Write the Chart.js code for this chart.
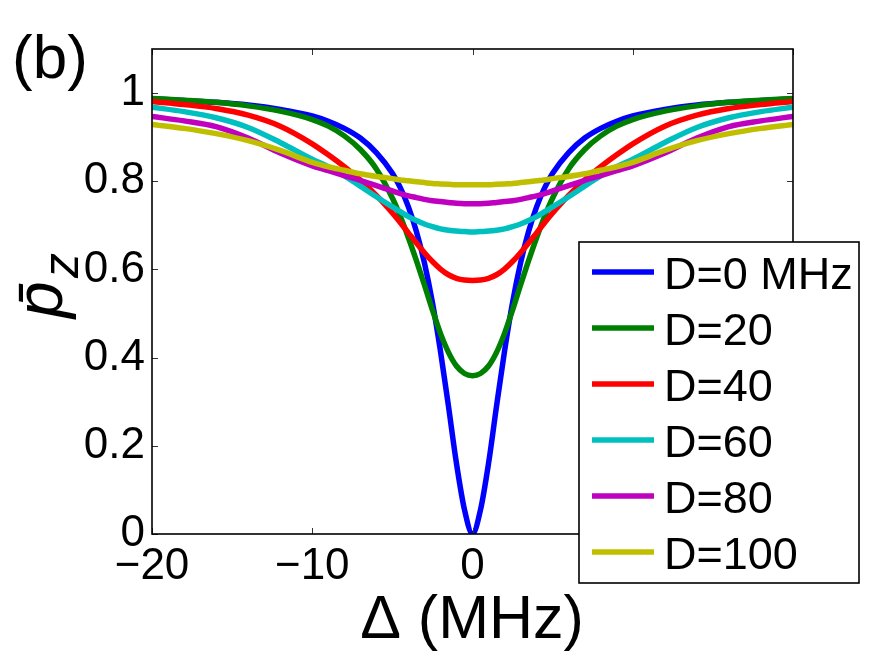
<!DOCTYPE html>
<html><head><meta charset="utf-8">
<script src="https://cdn.jsdelivr.net/npm/chart.js@4.4.0/dist/chart.umd.min.js"></script>
<style>html,body{margin:0;padding:0;background:#fff;}canvas{display:block;}</style>
</head><body>
<canvas id="c" width="875" height="657"></canvas>
<script>
// Detuning Δ (MHz)
const detuning = [-20,-18,-16,-14,-12,-10,-9,-8,-7,-6,-5,-4.5,-4,-3.5,-3,-2.5,-2,-1.5,-1,-0.5,0,
                  0.5,1,1.5,2,2.5,3,3.5,4,4.5,5,6,7,8,9,10,12,14,16,18,20];
// p̄z for each D
const pD0   = [0.987,0.983,0.979,0.973,0.963,0.948,0.936,0.920,0.898,0.865,0.818,0.785,0.742,0.686,0.615,0.525,0.415,0.290,0.160,0.055,0.000,
               0.055,0.160,0.290,0.415,0.525,0.615,0.686,0.742,0.785,0.818,0.865,0.898,0.920,0.936,0.948,0.963,0.973,0.979,0.983,0.987];
const pD20  = [0.988,0.984,0.979,0.971,0.959,0.940,0.925,0.903,0.872,0.828,0.762,0.720,0.672,0.620,0.565,0.508,0.455,0.412,0.381,0.364,0.359,
               0.364,0.381,0.412,0.455,0.508,0.565,0.620,0.672,0.720,0.762,0.828,0.872,0.903,0.925,0.940,0.959,0.971,0.979,0.984,0.988];
const pD40  = [0.981,0.974,0.965,0.950,0.925,0.885,0.860,0.833,0.803,0.768,0.728,0.706,0.683,0.660,0.638,0.618,0.601,0.588,0.580,0.576,0.575,
               0.576,0.580,0.588,0.601,0.618,0.638,0.660,0.683,0.706,0.728,0.768,0.803,0.833,0.860,0.885,0.925,0.950,0.965,0.974,0.981];
const pD60  = [0.968,0.958,0.944,0.922,0.888,0.850,0.833,0.812,0.789,0.765,0.742,0.731,0.720,0.711,0.703,0.697,0.692,0.689,0.687,0.686,0.685,
               0.686,0.687,0.689,0.692,0.697,0.703,0.711,0.720,0.731,0.742,0.765,0.789,0.812,0.833,0.850,0.888,0.922,0.944,0.958,0.968];
const pD80  = [0.947,0.937,0.924,0.898,0.864,0.835,0.824,0.813,0.802,0.790,0.778,0.772,0.767,0.763,0.759,0.756,0.754,0.752,0.750,0.749,0.749,
               0.749,0.750,0.752,0.754,0.756,0.759,0.763,0.767,0.772,0.778,0.790,0.802,0.813,0.824,0.835,0.864,0.898,0.924,0.937,0.947];
const pD100 = [0.929,0.920,0.908,0.892,0.870,0.843,0.833,0.825,0.817,0.811,0.806,0.803,0.801,0.799,0.797,0.795,0.794,0.793,0.792,0.792,0.792,
               0.792,0.792,0.793,0.794,0.795,0.797,0.799,0.801,0.803,0.806,0.811,0.817,0.825,0.833,0.843,0.870,0.892,0.908,0.920,0.929];
const seriesLabels = ['D=0 MHz','D=20','D=40','D=60','D=80','D=100'];
const xTicks = [-20,-10,0,10,20];
const yTicks = [0,0.2,0.4,0.6,0.8,1];

const seriesValues = [pD0,pD20,pD40,pD60,pD80,pD100];
const seriesColors = ['#0000ff','#008000','#ff0000','#00bfbf','#bf00bf','#bfbf00'];
const FONT = "'Liberation Sans', Arial, Helvetica, sans-serif";

const datasets = seriesValues.map((vals,i)=>({
  label: seriesLabels[i],
  data: detuning.map((x,j)=>({x:x, y:vals[j]})),
  borderColor: seriesColors[i],
  backgroundColor: seriesColors[i],
  borderWidth: 5.5,
  pointRadius: 0,
  fill: false,
  cubicInterpolationMode: 'monotone',
  order: 6 - i
}));

const decor = {
  id: 'decor',
  afterDatasetsDraw(chart){
    const {ctx, chartArea:a, scales:{x,y}} = chart;
    ctx.save();
    ctx.strokeStyle = '#333'; ctx.lineWidth = 1;
    ctx.beginPath();
    xTicks.forEach(v=>{const p=Math.round(x.getPixelForValue(v))+0.5;
      ctx.moveTo(p,a.bottom); ctx.lineTo(p,a.bottom-6);
      ctx.moveTo(p,a.top); ctx.lineTo(p,a.top+6);});
    yTicks.forEach(v=>{const p=Math.round(y.getPixelForValue(v))+0.5;
      ctx.moveTo(a.left,p); ctx.lineTo(a.left+6,p);
      ctx.moveTo(a.right,p); ctx.lineTo(a.right-6,p);});
    ctx.stroke();
    ctx.strokeStyle = '#000'; ctx.lineWidth = 1.6;
    ctx.strokeRect(a.left, a.top, a.right-a.left, a.bottom-a.top);
    ctx.restore();
  },
  afterDraw(chart){
    const ctx = chart.ctx;
    ctx.save();
    ctx.fillStyle = '#000';
    ctx.textBaseline = 'alphabetic';
    // panel label
    ctx.font = '62px ' + FONT;
    ctx.textAlign = 'left';
    ctx.fillText('(b)', 12, 78);
    // x title
    ctx.font = '61px ' + FONT;
    ctx.textAlign = 'center';
    ctx.fillText('\u0394 (MHz)', 472, 638);
    // y title p̄_z
    ctx.save();
    ctx.translate(62, 318);
    ctx.rotate(-Math.PI/2);
    ctx.textAlign = 'left';
    ctx.font = 'italic 66px ' + FONT;
    ctx.fillText('p\u0304', 0, 0);
    ctx.font = 'italic 50px ' + FONT;
    ctx.fillText('z', 40, 16);
    ctx.restore();
    // legend
    const bx=579, by=242, bw=280, bh=341;
    ctx.fillStyle = '#fff';
    ctx.fillRect(bx,by,bw,bh);
    ctx.strokeStyle = '#000'; ctx.lineWidth = 1.6;
    ctx.strokeRect(bx,by,bw,bh);
    ctx.font = '45px ' + FONT;
    ctx.textAlign = 'left';
    chart.data.datasets.forEach((ds,i)=>{
      const ly = 272 + 56*i;
      ctx.strokeStyle = ds.borderColor; ctx.lineWidth = 5.5;
      ctx.beginPath(); ctx.moveTo(592,ly); ctx.lineTo(654,ly); ctx.stroke();
      ctx.fillStyle = '#000';
      ctx.fillText(ds.label, 664, ly+17);
    });
    ctx.restore();
  }
};

new Chart(document.getElementById('c'), {
  type: 'line',
  data: { datasets },
  options: {
    responsive: false,
    animation: false,
    devicePixelRatio: 1,
    layout: { padding: { left: 0, top: 49, right: 82, bottom: 0 } },
    plugins: { legend: { display: false }, tooltip: { enabled: false } },
    scales: {
      x: {
        type: 'linear', min: -20, max: 20,
        afterFit(s){ s.height = 123; },
        afterBuildTicks(s){ s.ticks = xTicks.map(v=>({value:v})); },
        grid: { display: false, drawTicks: false },
        border: { display: false },
        ticks: {
          padding: 6, color: '#000', maxRotation: 0, autoSkip: false,
          font: { family: FONT, size: 44 },
          callback: v => (v < 0 ? '\u2212' + Math.abs(v) : String(v))
        }
      },
      y: {
        type: 'linear', min: 0, max: 1.1,
        afterFit(s){ s.width = 152; },
        afterBuildTicks(s){ s.ticks = yTicks.map(v=>({value:v})); },
        grid: { display: false, drawTicks: false },
        border: { display: false },
        ticks: {
          padding: 7, color: '#000', autoSkip: false,
          font: { family: FONT, size: 44 },
          callback: v => String(Number(v.toFixed(1)))
        }
      }
    }
  },
  plugins: [decor]
});
</script>
</body></html>
